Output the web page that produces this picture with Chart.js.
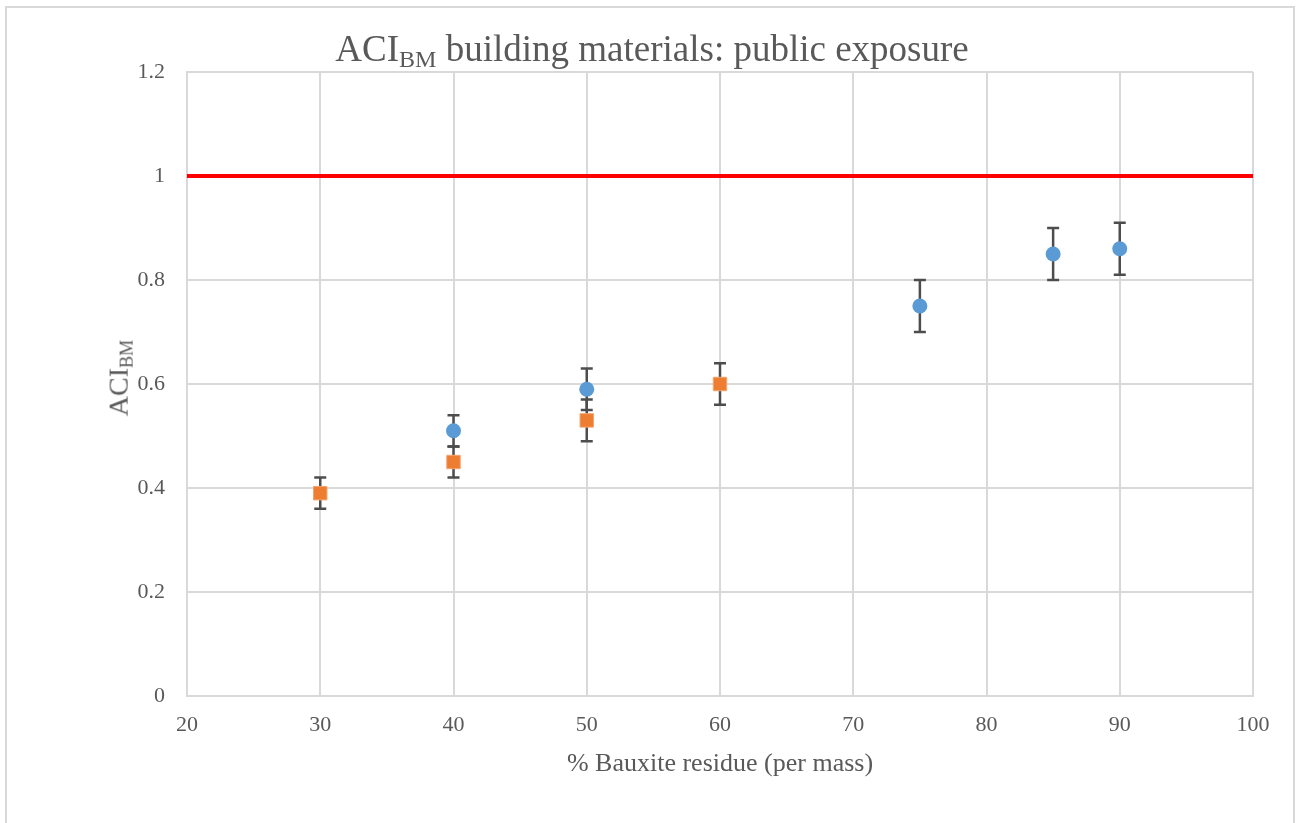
<!DOCTYPE html>
<html>
<head>
<meta charset="utf-8">
<script src="https://cdn.jsdelivr.net/npm/chart.js@4.4.0/dist/chart.umd.min.js"></script>
<style>
  body { margin: 0; background: #fff; }
  #wrap { position: relative; width: 1304px; height: 823px; overflow: hidden; }
  #frame { position: absolute; left: 5px; top: 6px; width: 1290px; height: 830px; border: 2px solid #d9d9d9; box-sizing: border-box; }
  #myChart { position: absolute; left: 0; top: 0; }
  .lbl { position: absolute; font-family: "Liberation Serif", "Times New Roman", serif; color: #595959; white-space: nowrap; line-height: 1; }
  #title { left: 0; width: 1304px; top: 30px; text-align: center; font-size: 37px; }
  #ylab { left: 120px; top: 378px; font-size: 28px; transform: translate(-50%, -50%) rotate(-90deg); }
  sub { font-size: 0.65em; vertical-align: -0.25em; }
</style>
</head>
<body>
<div id="wrap">
  <div id="frame"></div>
  <canvas id="myChart" width="1304" height="823"></canvas>
  <div class="lbl" id="title">ACI<sub>BM</sub> building materials: public exposure</div>
  <div class="lbl" id="ylab">ACI<sub>BM</sub></div>
</div>
<script>
// blue circles
const blueX = [40, 50, 75, 85, 90];
const blueY = [0.51, 0.59, 0.75, 0.85, 0.86];
const blueErr = [0.03, 0.04, 0.05, 0.05, 0.05];
// orange squares
const orangeX = [30, 40, 50, 60];
const orangeY = [0.39, 0.45, 0.53, 0.60];
const orangeErr = [0.03, 0.03, 0.04, 0.04];
// limit line
const limitX = [20, 100];
const limitY = [1, 1];

const xTitle = '% Bauxite residue (per mass)';

function pts(xs, ys) {
  return xs.map((x, i) => ({ x: x, y: ys[i] }));
}

// error bars, drawn under the markers
const errorBars = {
  id: 'errorBars',
  beforeDatasetsDraw(chart) {
    const ctx = chart.ctx;
    const xs = chart.scales.x, ys = chart.scales.y;
    ctx.save();
    ctx.strokeStyle = '#4d4d4d';
    ctx.lineWidth = 2.5;
    chart.data.datasets.forEach(ds => {
      if (!ds.err) return;
      ds.data.forEach((p, i) => {
        const px = xs.getPixelForValue(p.x);
        const top = ys.getPixelForValue(p.y + ds.err[i]);
        const bot = ys.getPixelForValue(p.y - ds.err[i]);
        ctx.beginPath();
        ctx.moveTo(px, top); ctx.lineTo(px, bot);
        ctx.moveTo(px - 6, top); ctx.lineTo(px + 6, top);
        ctx.moveTo(px - 6, bot); ctx.lineTo(px + 6, bot);
        ctx.stroke();
      });
    });
    ctx.restore();
  }
};

const serif = '"Liberation Serif", "Times New Roman", serif';
const tickFont = { family: serif, size: 22 };

new Chart(document.getElementById('myChart'), {
  type: 'scatter',
  data: {
    datasets: [
      {
        type: 'line',
        data: pts(limitX, limitY),
        borderColor: '#ff0000',
        borderWidth: 4,
        pointRadius: 0,
        fill: false
      },
      {
        data: pts(blueX, blueY),
        err: blueErr,
        backgroundColor: '#5b9bd5',
        borderColor: '#5b9bd5',
        pointStyle: 'circle',
        pointRadius: 7.5,
        borderWidth: 0
      },
      {
        data: pts(orangeX, orangeY),
        err: orangeErr,
        backgroundColor: '#ed7d31',
        borderColor: '#f4a46e',
        pointStyle: 'rect',
        pointRadius: 9.5,
        borderWidth: 1
      }
    ]
  },
  options: {
    responsive: false,
    animation: false,
    layout: { padding: { top: 72, right: 51, left: 0, bottom: 0 } },
    plugins: { legend: { display: false }, tooltip: { enabled: false } },
    scales: {
      x: {
        type: 'linear',
        min: 20, max: 100,
        ticks: { stepSize: 10, color: '#595959', font: tickFont, padding: 16 },
        grid: { color: '#d9d9d9', lineWidth: 2, drawTicks: false },
        border: { color: '#d9d9d9', width: 2 },
        title: {
          display: true, text: xTitle, color: '#595959',
          font: { family: serif, size: 26 },
          padding: { top: 0, bottom: 43 }
        },
        afterFit(s) { s.height = 127; }
      },
      y: {
        min: 0, max: 1.2,
        ticks: {
          stepSize: 0.2, color: '#595959', font: tickFont, padding: 22,
          callback: v => String(+v.toFixed(1))
        },
        grid: { color: '#d9d9d9', lineWidth: 2, drawTicks: false },
        border: { color: '#d9d9d9', width: 2 },
        afterFit(s) { s.width = 187; }
      }
    }
  },
  plugins: [errorBars]
});
</script>
</body>
</html>
